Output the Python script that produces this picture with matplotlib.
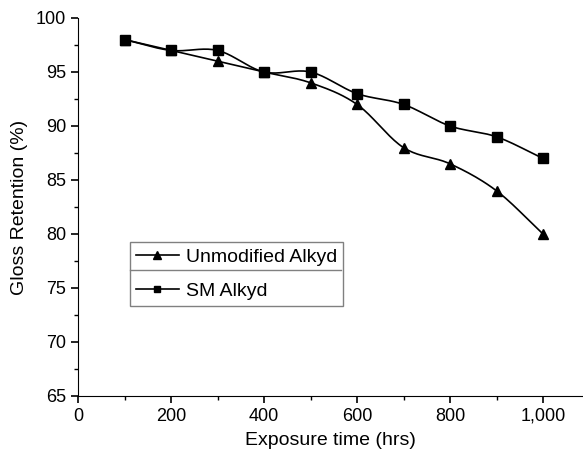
import numpy as np
import matplotlib
matplotlib.use("Agg")
import matplotlib.pyplot as plt
from matplotlib.ticker import MultipleLocator, FuncFormatter
from matplotlib.lines import Line2D

plt.rcParams['font.family'] = ['Liberation Sans', 'DejaVu Sans']

exposure = [100, 200, 300, 400, 500, 600, 700, 800, 900, 1000]
unmodified = [98, 97, 96, 95, 94, 92, 88, 86.5, 84, 80]
sm_alkyd = [98, 97, 97, 95, 95, 93, 92, 90, 89, 87]
labels = ["Unmodified Alkyd", "SM Alkyd"]


def smooth(x, y, n=20):
    # Catmull-Rom spline through the data points (for the smoothed connecting line)
    x = np.asarray(x, float); y = np.asarray(y, float)
    px = np.concatenate([[2*x[0]-x[1]], x, [2*x[-1]-x[-2]]])
    py = np.concatenate([[2*y[0]-y[1]], y, [2*y[-1]-y[-2]]])
    xs, ys = [], []
    t = np.linspace(0, 1, n, endpoint=False)
    for i in range(1, len(px)-2):
        for arr, out in ((px, xs), (py, ys)):
            p0, p1, p2, p3 = arr[i-1], arr[i], arr[i+1], arr[i+2]
            out.extend(0.5*((2*p1) + (-p0+p2)*t + (2*p0-5*p1+4*p2-p3)*t**2 + (-p0+3*p1-3*p2+p3)*t**3))
    xs.append(x[-1]); ys.append(y[-1])
    return np.array(xs), np.array(ys)


fig = plt.figure(figsize=(5.83, 4.55), dpi=100)
ax = fig.add_axes([78/583, 59/455, 505/583, 378/455])

for yv, mk in ((unmodified, '^'), (sm_alkyd, 's')):
    sx, sy = smooth(exposure, yv)
    ax.plot(sx, sy, color='black', lw=1.2)
    ax.plot(exposure, yv, linestyle='none', marker=mk, color='black', markersize=7)

ax.set_xlim(0, 1086)
ax.set_ylim(65, 100)
ax.xaxis.set_major_locator(MultipleLocator(200))
ax.xaxis.set_minor_locator(MultipleLocator(100))
ax.yaxis.set_major_locator(MultipleLocator(5))
ax.yaxis.set_minor_locator(MultipleLocator(2.5))
ax.xaxis.set_major_formatter(FuncFormatter(lambda v, p: f"{int(v):,}"))
for s in ('top', 'right'):
    ax.spines[s].set_visible(False)
ax.tick_params(which='major', direction='out', length=5, width=1.2, labelsize=13)
ax.tick_params(which='minor', direction='out', length=3, width=1)
ax.set_xlabel("Exposure time (hrs)", fontsize=14, labelpad=5)
ax.set_ylabel("Gloss Retention (%)", fontsize=14, labelpad=6)

handles = [Line2D([], [], color='black', lw=1.2, marker='^', markersize=6),
           Line2D([], [], color='black', lw=1.2, marker='s', markersize=5)]
leg = ax.legend(handles, labels, loc='upper left', bbox_to_anchor=(0.103, 0.407),
                fontsize=14, frameon=True, fancybox=False, edgecolor='gray',
                framealpha=1, borderpad=0.3, labelspacing=0.85, handlelength=2.2,
                handletextpad=0.4, borderaxespad=0)
leg.get_frame().set_linewidth(1.0)
ax.plot([0.103, 0.521], [0.333, 0.333], transform=ax.transAxes, color='gray',
        lw=1.0, clip_on=False, zorder=10)

fig.savefig("out.png", dpi=100)
